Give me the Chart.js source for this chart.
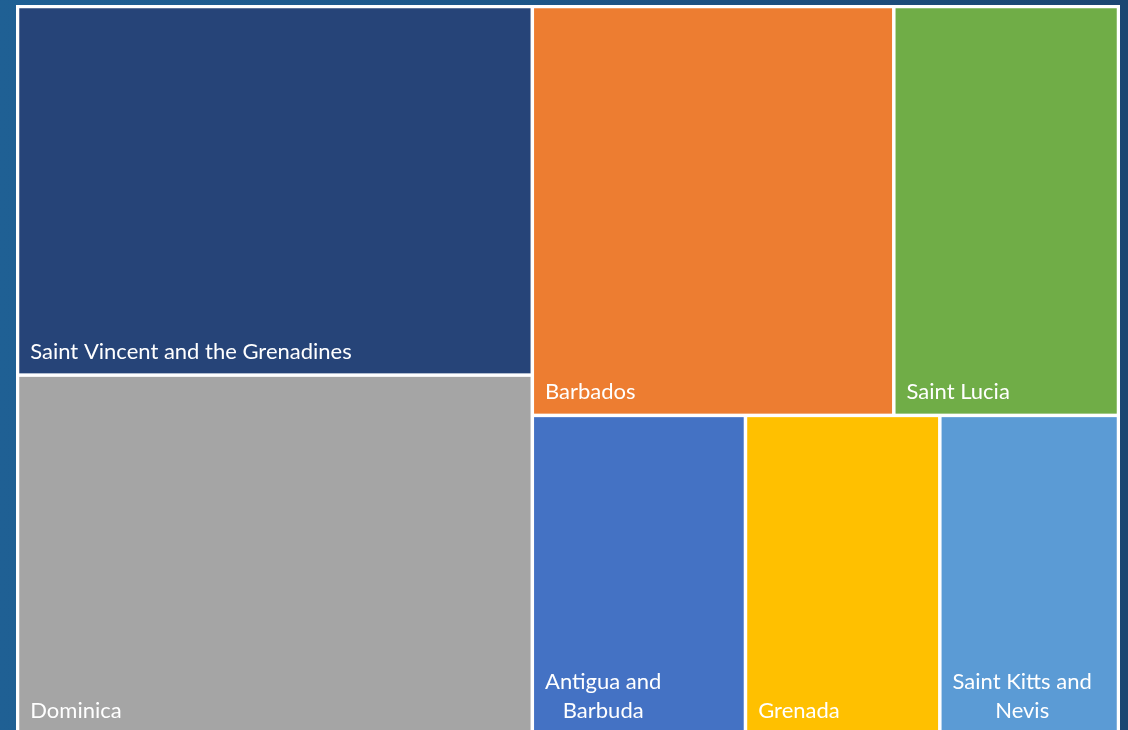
<!DOCTYPE html>
<html>
<head>
<meta charset="utf-8">
<script src="https://cdn.jsdelivr.net/npm/chart.js@4.4.1/dist/chart.umd.min.js"></script>
<style>
  html, body { margin: 0; padding: 0; overflow: hidden; }
  body {
    width: 1128px; height: 730px;
    background: linear-gradient(to right, #1f6094 0%, #1e5789 45%, #1b4672 100%);
  }
  #wrap { position: absolute; left: 0; top: 0; width: 1128px; height: 740px; }
</style>
</head>
<body>
<div id="wrap"><canvas id="chart"></canvas></div>
<script>
// country values
const countries = ['Saint Vincent and the Grenadines', 'Dominica', 'Barbados', 'Saint Lucia',
                   'Antigua and Barbuda', 'Grenada', 'Saint Kitts and Nevis'];
const values = [190, 185, 148, 92, 68, 62, 57];
const colors = ['#264478', '#a5a5a5', '#ed7d31', '#70ad47', '#4472c4', '#ffc000', '#5b9bd5'];

// size of the layout area in data units
const W = 1101;
const H = 727.5;

function worst(row, side) {
    const sum = row.reduce((s, r) => s + r.area, 0);
    const max = Math.max(...row.map(r => r.area));
    const min = Math.min(...row.map(r => r.area));
    return Math.max(side * side * max / (sum * sum), (sum * sum) / (side * side * min));
}

// squarified treemap, in data units
function squarify(items, x, y, w, h) {
    const out = [];
    let rest = items.slice();
    while (rest.length) {
        const side = Math.min(w, h);
        const row = [rest[0]];
        let i = 1;
        while (i < rest.length && worst(row.concat(rest[i]), side) <= worst(row, side)) {
            row.push(rest[i]);
            i++;
        }
        rest = rest.slice(i);
        const sum = row.reduce((s, r) => s + r.area, 0);
        if (w >= h) {
            const cw = sum / h;
            let cy = y;
            row.forEach(r => {
                const rh = r.area / cw;
                out.push(Object.assign({}, r, { x0: x, y0: cy, x1: x + cw, y1: cy + rh }));
                cy += rh;
            });
            x += cw; w -= cw;
        } else {
            const rh = sum / w;
            let cx = x;
            row.forEach(r => {
                const rw = r.area / rh;
                out.push(Object.assign({}, r, { x0: cx, y0: y, x1: cx + rw, y1: y + rh }));
                cx += rw;
            });
            y += rh; h -= rh;
        }
    }
    return out;
}

const total = values.reduce((a, b) => a + b, 0);
const items = countries.map((c, i) => ({ label: c, color: colors[i], area: values[i] * W * H / total }))
    .sort((a, b) => b.area - a.area);
const cells = squarify(items, 0, 0, W, H);

function wrapText(ctx, text, maxW) {
    const words = text.split(' ');
    const lines = [];
    let line = '';
    words.forEach(w => {
        const test = line ? line + ' ' + w : w;
        if (ctx.measureText(test).width > maxW && line) {
            lines.push(line);
            line = w;
        } else {
            line = test;
        }
    });
    if (line) lines.push(line);
    return lines;
}

const treemapPlugin = {
    id: 'treemap',
    afterDatasetsDraw(chart) {
        const ctx = chart.ctx;
        const xs = chart.scales.x, ys = chart.scales.y;
        ctx.save();
        // white frame behind the cells
        ctx.fillStyle = '#ffffff';
        const fx0 = xs.getPixelForValue(0), fy0 = ys.getPixelForValue(0);
        const fx1 = xs.getPixelForValue(W), fy1 = ys.getPixelForValue(H);
        ctx.fillRect(fx0 - 1.5, fy0 - 1.5, fx1 - fx0 + 3, fy1 - fy0 + 3);

        const gap = 1.75;
        const pad = 11;
        ctx.font = '22px Lato';
        cells.forEach(c => {
            const x0 = xs.getPixelForValue(c.x0), x1 = xs.getPixelForValue(c.x1);
            const y0 = ys.getPixelForValue(c.y0), y1 = ys.getPixelForValue(c.y1);
            ctx.fillStyle = c.color;
            ctx.fillRect(x0 + gap, y0 + gap, x1 - x0 - 2 * gap, y1 - y0 - 2 * gap);

            // label, bottom left
            ctx.fillStyle = '#ffffff';
            ctx.textBaseline = 'alphabetic';
            ctx.textAlign = 'center';
            const lines = wrapText(ctx, c.label, x1 - x0 - 2 * gap - 2 * pad);
            const blockW = Math.max(...lines.map(l => ctx.measureText(l).width));
            const cx = x0 + gap + pad + blockW / 2;
            const lineH = 29;
            lines.forEach((l, i) => {
                const by = y1 - 16 - (lines.length - 1 - i) * lineH;
                ctx.fillText(l, cx, by);
            });
        });
        ctx.restore();
    }
};

new Chart(document.getElementById('chart'), {
    type: 'scatter',
    data: { datasets: [{ data: [] }] },
    options: {
        responsive: true,
        maintainAspectRatio: false,
        animation: false,
        layout: { padding: { left: 17.5, right: 9.5, top: 6.5, bottom: 6 } },
        plugins: { legend: { display: false }, tooltip: { enabled: false } },
        scales: {
            x: { type: 'linear', min: 0, max: W, display: false },
            y: { type: 'linear', min: 0, max: H, reverse: true, display: false }
        }
    },
    plugins: [treemapPlugin]
});
</script>
</body>
</html>
